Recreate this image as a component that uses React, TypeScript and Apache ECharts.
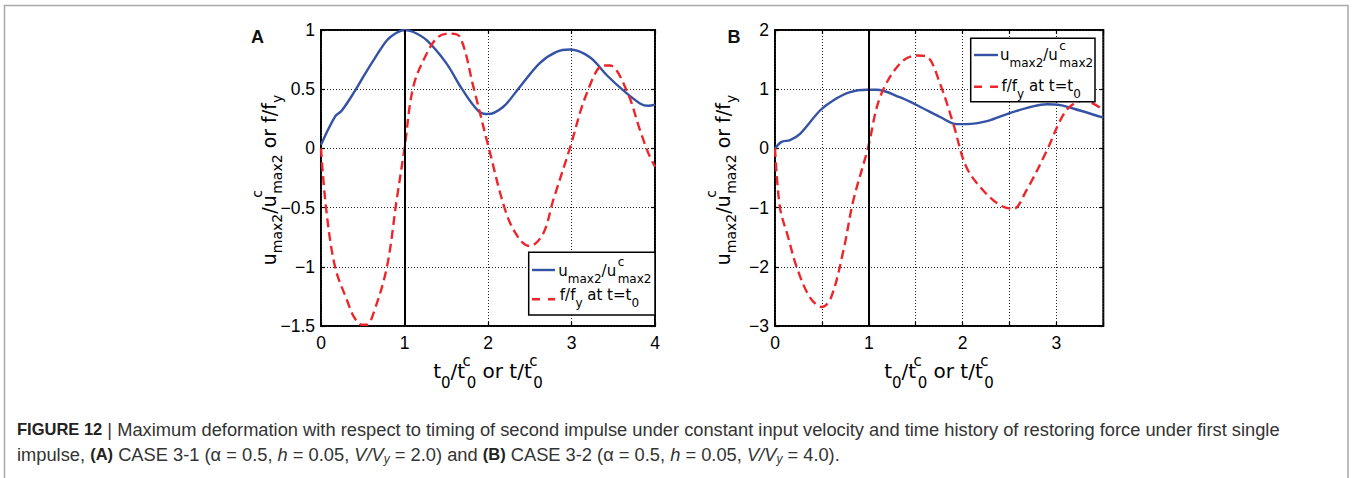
import React, { useEffect, useRef } from "react";
import * as echarts from "echarts";

// ---------- Panel A (CASE 3-1) ----------
const tA_u = [0, 0.17, 0.25, 0.41, 0.52, 0.63, 0.79, 0.9, 1.0, 1.1, 1.265, 1.5, 1.69, 1.88, 2.0, 2.18, 2.36, 2.62, 2.82, 2.98, 3.22, 3.42, 3.62, 3.82, 3.92, 4.0];
const uA = [0.03, 0.27, 0.32, 0.49, 0.62, 0.745, 0.914, 0.975, 1.0, 0.985, 0.914, 0.72, 0.5, 0.32, 0.29, 0.35, 0.5, 0.72, 0.815, 0.835, 0.77, 0.62, 0.49, 0.38, 0.36, 0.37];
const tA_f = [0, 0.06, 0.168, 0.31, 0.4, 0.49, 0.55, 0.63, 0.79, 0.905, 1.0, 1.105, 1.265, 1.4, 1.53, 1.665, 1.825, 2.0, 2.22, 2.38, 2.5, 2.66, 2.78, 2.98, 3.18, 3.38, 3.46, 3.66, 3.82, 3.92, 4.0];
const fA = [0, -0.5, -1.0, -1.28, -1.43, -1.49, -1.49, -1.39, -1.0, -0.44, 0, 0.52, 0.8, 0.94, 0.97, 0.94, 0.52, 0.03, -0.55, -0.77, -0.825, -0.72, -0.44, 0, 0.46, 0.7, 0.7, 0.49, 0.155, -0.04, -0.155];
const xTicksA = [0, 1, 2, 3, 4];
const yTicksA = [-1.5, -1, -0.5, 0, 0.5, 1];

// ---------- Panel B (CASE 3-2) ----------
const tB_u = [0, 0.07, 0.16, 0.27, 0.48, 0.62, 0.8, 0.98, 1.08, 1.33, 1.55, 1.76, 1.94, 2.04, 2.26, 2.51, 2.75, 2.9, 3.04, 3.25, 3.5];
const uB = [0, 0.11, 0.14, 0.25, 0.64, 0.81, 0.95, 0.99, 0.99, 0.865, 0.7, 0.53, 0.41, 0.41, 0.46, 0.6, 0.71, 0.745, 0.73, 0.64, 0.52];
const tB_f = [0, 0.053, 0.14, 0.23, 0.37, 0.5, 0.6, 0.73, 0.835, 0.99, 1.12, 1.33, 1.51, 1.62, 1.76, 1.9, 2.04, 2.22, 2.4, 2.54, 2.68, 2.9, 3.04, 3.14, 3.29, 3.5];
const fB = [0, -1.0, -1.5, -2.0, -2.51, -2.68, -2.51, -1.72, -0.88, 0, 0.865, 1.43, 1.57, 1.55, 1.09, 0.42, -0.315, -0.71, -0.96, -1.02, -0.71, -0.03, 0.47, 0.7, 0.81, 0.65];
const xTicksB = [0, 0.5, 1, 1.5, 2, 2.5, 3, 3.5];
const yTicksB = [-3, -2, -1, 0, 1, 2];

const markedX = [1];

const BLUE = "#3553a5";
const RED = "#ee262c";
const TICK_FONT = "Liberation Sans";
const NAME_FONT = "DejaVu Sans";

const pairs = (xs: number[], ys: number[]) => xs.map((x, i) => [x, ys[i]]);
const fmt = (v: number) => String(v).replace("-", "\u2212");

function makeAxes(gridIndex: number, xt: number[], yt: number[], intLabelsOnly: boolean) {
  const tick = { show: true, inside: true, length: 4, lineStyle: { color: "#000", width: 1.2 } };
  const split = { show: true, lineStyle: { color: "#222", type: [1, 2], width: 1 } };
  const label = { color: "#000", fontSize: 17.5, fontFamily: TICK_FONT };
  const line = { show: false, onZero: false };
  const xBase = { gridIndex, type: "value", min: xt[0], max: xt[xt.length - 1], interval: xt[1] - xt[0], axisLine: line };
  const yBase = { gridIndex, type: "value", min: yt[0], max: yt[yt.length - 1], interval: yt[1] - yt[0], axisLine: line };
  const x = [
    {
      ...xBase, position: "bottom", axisTick: tick, splitLine: split,
      axisLabel: { ...label, margin: 8, formatter: (v: number) => (intLabelsOnly && !Number.isInteger(v) ? "" : fmt(v)) },
    },
    { ...xBase, position: "top", axisTick: tick, axisLabel: { show: false }, splitLine: { show: false } },
  ];
  const y = [
    { ...yBase, position: "left", axisTick: tick, splitLine: split, axisLabel: { ...label, margin: 6, formatter: (v: number) => fmt(v) } },
    { ...yBase, position: "right", axisTick: tick, axisLabel: { show: false }, splitLine: { show: false } },
  ];
  return { x, y };
}

const nameRich = (main: number, sub: number, subH: number, supH: number) => ({
  n: { fontFamily: NAME_FONT, fontSize: main },
  b: { fontFamily: NAME_FONT, fontSize: sub, height: subH, verticalAlign: "bottom" },
  p: { fontFamily: NAME_FONT, fontSize: sub, height: supH, verticalAlign: "top", width: 0, padding: [0, 0, 0, 1.5] },
});

const Y_NAME = "{n|u}{b|max2}{n|/u}{p|c}{b|max2}{n| or f/f}{b|y}";
const X_NAME = "{n|t}{b|0}{n|/t}{p|c}{b|0}{n| or t/t}{p|c}{b|0}";
const LEG_U = "{n|u}{b|max2}{n|/u}{p|c}{b|max2}";
const LEG_F = "{n|f/f}{b|y}{n| at t=t}{b|0}";

const CAP1 = "{b|FIGURE 12}{n| | Maximum deformation with respect to timing of second impulse under constant input velocity and time history of restoring force under first single}";
const CAP2 = "{n|impulse, }{b|(A)}{n| CASE 3-1 (\u03b1 = 0.5, }{i|h}{n| = 0.05, }{i|V/V}{s|y}{n| = 2.0) and }{b|(B)}{n| CASE 3-2 (\u03b1 = 0.5, }{i|h}{n| = 0.05, }{i|V/V}{s|y}{n| = 4.0).}";

function txt(x: number, y: number, text: string, rich: any, align: string, lineHeight: number, rotation = 0, z = 50) {
  return {
    type: "text", x, y, rotation, z,
    style: { text, rich, fill: "#000", align, verticalAlign: "middle", textAlign: align, textVerticalAlign: "middle", lineHeight },
  };
}

function legend(bx: number, by: number, bw: number, bh: number, ly1: number, ly2: number, lx1: number, lx2: number, tx: number, ty1: number, ty2: number) {
  const rich = nameRich(15, 12, 14, 12);
  return [
    { type: "rect", z: 100, shape: { x: bx, y: by, width: bw, height: bh }, style: { fill: "#fff", stroke: "#000", lineWidth: 1.5 } },
    { type: "line", z: 101, shape: { x1: lx1, y1: ly1, x2: lx2, y2: ly1 }, style: { stroke: BLUE, lineWidth: 2.4 } },
    { type: "line", z: 101, shape: { x1: lx1, y1: ly2, x2: lx2, y2: ly2 }, style: { stroke: RED, lineWidth: 2.4, lineDash: [8, 8] } },
    txt(tx, ty1, LEG_U, rich, "left", 30, 0, 102),
    txt(tx + 1.5, ty2, LEG_F, rich, "left", 30, 0, 102),
  ];
}

export default function App() {
  const ref = useRef<HTMLDivElement>(null);
  useEffect(() => {
    if (!ref.current) return;
    const chart = echarts.init(ref.current, null, { renderer: "svg" });
    const a = makeAxes(0, xTicksA, yTicksA, false);
    const b = makeAxes(1, xTicksB, yTicksB, true);
    const gridStyle = { show: true, borderColor: "#000", borderWidth: 2, backgroundColor: "transparent" };
    const mark = {
      silent: true, symbol: "none", label: { show: false },
      lineStyle: { color: "#000", width: 2, type: "solid" },
      data: markedX.map((v) => ({ xAxis: v })),
    };
    const lineSeries = (xi: number, yi: number, data: number[][], color: string, dashed: boolean, withMark: boolean) => ({
      type: "line", xAxisIndex: xi, yAxisIndex: yi, data, showSymbol: false, symbol: "none", smooth: 0.35,
      lineStyle: { color, width: 2.4, type: dashed ? [9, 5] : "solid" }, z: 3,
      ...(withMark ? { markLine: mark } : {}),
    });
    const xnRich = nameRich(20, 15, 16.6, 20.8);
    const ynRich = nameRich(19, 14, 22.4, 17.6);
    const capRich = {
      n: { fontFamily: TICK_FONT, fontSize: 18.3, fill: "#333" },
      b: { fontFamily: TICK_FONT, fontSize: 16.5, fontWeight: "bold", fill: "#222" },
      i: { fontFamily: TICK_FONT, fontSize: 18.3, fontStyle: "italic", fill: "#333" },
      s: { fontFamily: TICK_FONT, fontSize: 12, fontStyle: "italic", fill: "#333", height: 12, verticalAlign: "bottom" },
    };
    chart.setOption({
      animation: false,
      backgroundColor: "#fff",
      grid: [
        { left: 321, top: 30, width: 334, height: 296, ...gridStyle },
        { left: 775, top: 30, width: 328.3, height: 296, ...gridStyle },
      ],
      xAxis: [...a.x, ...b.x],
      yAxis: [...a.y, ...b.y],
      series: [
        lineSeries(0, 0, pairs(tA_u, uA), BLUE, false, true),
        lineSeries(0, 0, pairs(tA_f, fA), RED, true, false),
        lineSeries(2, 2, pairs(tB_u, uB), BLUE, false, true),
        lineSeries(2, 2, pairs(tB_f, fB), RED, true, false),
      ],
      graphic: [
        { type: "polyline", z: 1, shape: { points: [[4.5, 480], [4.5, 5.5], [1348, 5.5], [1348, 480]] }, style: { stroke: "#a8a8a8", lineWidth: 1.5, fill: "none" } },
        { type: "text", x: 257.5, y: 36.5, z: 50, style: { text: "A", fontFamily: TICK_FONT, fontSize: 18, fontWeight: "bold", fill: "#111", align: "center", verticalAlign: "middle", textAlign: "center", textVerticalAlign: "middle" } },
        { type: "text", x: 734, y: 36.5, z: 50, style: { text: "B", fontFamily: TICK_FONT, fontSize: 18, fontWeight: "bold", fill: "#111", align: "center", verticalAlign: "middle", textAlign: "center", textVerticalAlign: "middle" } },
        txt(268.5, 180, Y_NAME, ynRich, "center", 40, Math.PI / 2),
        txt(722.5, 180, Y_NAME, ynRich, "center", 40, Math.PI / 2),
        txt(488, 371, X_NAME, xnRich, "center", 40),
        txt(939, 371, X_NAME, xnRich, "center", 40),
        ...legend(528.7, 252.3, 126.3, 62.7, 270, 299.3, 532, 555, 558.3, 270.5, 294.8),
        ...legend(970.7, 38.3, 124.3, 63.4, 55, 86.7, 974, 998, 1000, 54.5, 86),
        txt(17, 429, CAP1, capRich, "left", 22),
        txt(17, 454, CAP2, capRich, "left", 22),
      ],
    });
    return () => chart.dispose();
  }, []);
  return <div ref={ref} style={{ position: "absolute", left: 0, top: 0, width: 1352, height: 478 }} />;
}
